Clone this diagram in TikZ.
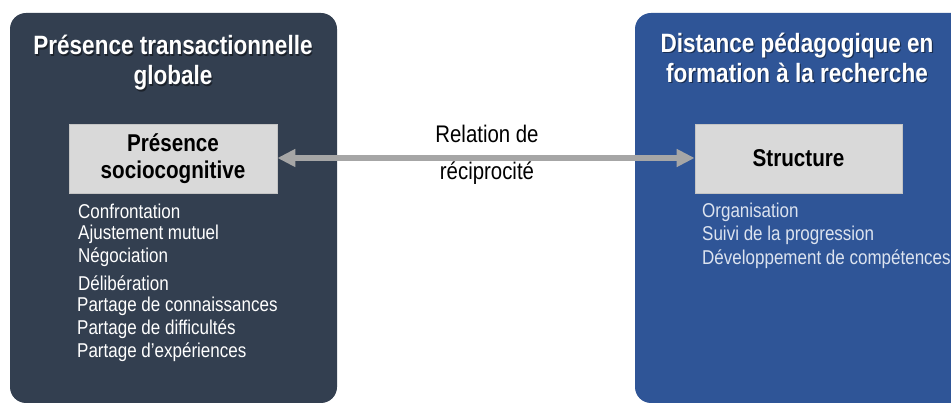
\documentclass[tikz,border=0pt]{standalone}
\usepackage{fontspec}
\setmainfont{Liberation Sans}
\newfontfamily\narrowfont[FakeStretch=0.85]{Liberation Sans}
\usetikzlibrary{arrows.meta}
\definecolor{navyL}{HTML}{333F50}
\definecolor{blueR}{HTML}{2F5597}
\definecolor{boxgray}{HTML}{D9D9D9}
\definecolor{boxedge}{HTML}{C4C4C4}
\definecolor{arrowgray}{HTML}{A6A6A6}
\definecolor{rtext}{HTML}{DCE3EF}
\tikzset{
  panel/.style={rounded corners=16pt},
  title/.style={font=\narrowfont\bfseries\fontsize{26.5}{30}\selectfont, align=center, text=white, inner sep=0pt},
  titleshadow/.style={font=\narrowfont\bfseries\fontsize{26.5}{30}\selectfont, align=center, text=black, opacity=0.45, inner sep=0pt},
  graybox/.style={fill=boxgray, draw=boxedge, line width=0.8pt},
  boxtext/.style={font=\narrowfont\bfseries\fontsize{24.3}{27}\selectfont, align=center, text=black, inner sep=0pt},
  item/.style={font=\narrowfont\fontsize{20}{20}\selectfont, anchor=west, inner sep=0pt, text=white},
  ritem/.style={font=\narrowfont\fontsize{20}{20}\selectfont, anchor=west, inner sep=0pt, text=rtext},
  rel/.style={font=\narrowfont\fontsize{24}{37}\selectfont, align=center, text=black, inner sep=0pt},
  recip/.style={draw=arrowgray, line width=6.5pt, {Triangle[length=18pt,width=17pt]}-{Triangle[length=18pt,width=17pt]}}
}
\begin{document}
\begin{tikzpicture}[x=1pt,y=-1pt]
\useasboundingbox (0,0) rectangle (951,411);
\clip (0,0) rectangle (951,411);
% panels
\fill[navyL, panel] (10,13) rectangle (337,403);
\fill[blueR, panel] (635,13) rectangle (985,403);
% titles
\node[titleshadow] at (174.2,64.2) {Présence transactionnelle\\globale};
\node[title] (tl) at (173,63) {Présence transactionnelle\\globale};
\node[titleshadow] at (798.2,59.2) {Distance pédagogique en\\formation à la recherche};
\node[title] (tr) at (797,58) {Distance pédagogique en\\formation à la recherche};
% gray boxes
\node[graybox, minimum width=208pt, minimum height=69pt] (bl) at (173,158.5) {};
\node[boxtext] (blt) at (bl.center) {Présence\\sociocognitive};
\node[graybox, minimum width=207pt, minimum height=69pt] (br) at (798.5,158.5) {};
\node[boxtext] (brt) at (br.center) {Structure};
% arrow
\draw[recip] (bl.east |- 0,158) -- (br.west |- 0,158);
\node[rel] (rl) at (487,155) {Relation de\\réciprocité};
% left items
\node[item] (l1) at (78,211) {Confrontation};
\node[item] (l2) at (78,234) {Ajustement mutuel};
\node[item] (l3) at (78,257) {Négociation};
\node[item] (l4) at (78,283) {Délibération};
\node[item] (l5) at (77,306) {Partage de connaissances};
\node[item] (l6) at (77,329) {Partage de difficultés};
\node[item] (l7) at (77,352) {Partage d’expériences};
% right items
\node[ritem] (r1) at (702,212) {Organisation};
\node[ritem] (r2) at (702,235) {Suivi de la progression};
\node[ritem] (r3) at (702,259) {Développement de compétences};
\end{tikzpicture}
\end{document}
